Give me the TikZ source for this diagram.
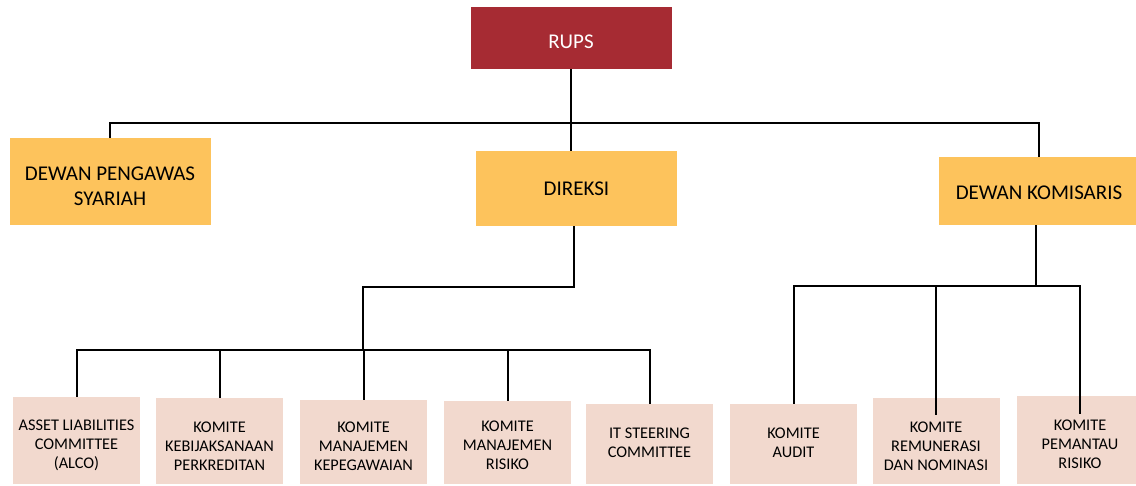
\documentclass[tikz,border=0pt]{standalone}
\usepackage{fontspec}
\setmainfont{Carlito}
\definecolor{rupsred}{HTML}{A62B33}
\definecolor{organgold}{HTML}{FDC35C}
\definecolor{komitepink}{HTML}{F2D9CE}
\begin{document}
\begin{tikzpicture}[x=1pt,y=-1pt,
  box/.style={draw=none,inner sep=0pt,anchor=center},
  topbox/.style={box,fill=organgold,minimum width=201pt},
  subbox/.style={box,fill=komitepink,minimum width=127pt},
  toptext/.style={inner sep=0pt,align=center,font=\fontsize{21}{25.5}\selectfont},
  subtext/.style={inner sep=0pt,align=center,font=\fontsize{16.3}{19}\selectfont},
  link/.style={draw=black,line width=2pt}]
\useasboundingbox (0,0) rectangle (1136,485);

% governing bodies
\node[box,fill=rupsred,minimum width=201pt,minimum height=62pt] (rups) at (571,38) {};
\node[topbox,minimum height=87pt] (dps) at (110,181.5) {};
\node[topbox,minimum height=75pt] (direksi) at (576.5,188.5) {};
\node[topbox,minimum height=68pt] (dk) at (1039,191) {};

\node[toptext,text=white] (rupsT) at ([yshift=-4pt]rups.center) {RUPS};
\node[toptext] (dpsT) at ([yshift=-5pt]dps.center) {DEWAN PENGAWAS\\SYARIAH};
\node[toptext] (direksiT) at ([yshift=0pt]direksi.center) {DIREKSI};
\node[toptext] (dkT) at ([yshift=-2pt]dk.center) {DEWAN KOMISARIS};

% committees under the board of directors
\node[subbox,minimum height=87pt] (alco) at (76.5,440.5) {};
\node[subbox,minimum height=86pt] (kkp) at (219.5,441) {};
\node[subbox,minimum height=84pt] (kmk) at (363.5,442) {};
\node[subbox,minimum height=83pt] (kmr) at (507.5,442.5) {};
\node[subbox,minimum height=80pt] (itsc) at (649.5,444) {};

\node[subtext] (alcoT) at ([yshift=-5pt]alco.center) {ASSET LIABILITIES\\COMMITTEE\\(ALCO)};
\node[subtext] (kkpT) at ([yshift=-5pt]kkp.center) {KOMITE\\KEBIJAKSANAAN\\PERKREDITAN};
\node[subtext] (kmkT) at ([yshift=-4pt]kmk.center) {KOMITE\\MANAJEMEN\\KEPEGAWAIAN};
\node[subtext] (kmrT) at ([yshift=-3pt]kmr.center) {KOMITE\\MANAJEMEN\\RISIKO};
\node[subtext] (itscT) at ([yshift=1pt]itsc.center) {IT STEERING\\COMMITTEE};

% committees under the board of commissioners
\node[subbox,minimum height=80pt] (audit) at (793.5,444) {};
\node[subbox,minimum height=86pt] (rem) at (936,441) {};
\node[subbox,minimum height=88pt] (pem) at (1080,440) {};

\node[subtext] (auditT) at ([yshift=1pt]audit.center) {KOMITE\\AUDIT};
\node[subtext] (remT) at ([yshift=-5pt]rem.center) {KOMITE\\REMUNERASI\\DAN NOMINASI};
\node[subtext] (pemT) at ([yshift=-4pt]pem.center) {KOMITE\\PEMANTAU\\RISIKO};

% junction points of the bus lines
\coordinate (bus0) at (571,123);
\coordinate (bus1) at (363,287);
\coordinate (bus2) at (363,350);
\coordinate (bus3) at (1036,286);
\coordinate (remEnd) at ([yshift=-17pt]rem.north);
\coordinate (pemEnd) at ([yshift=-18pt]pem.north);

% RUPS to the three top bodies
\draw[link] (rups.south) -- (rups.south |- direksi.north);
\draw[link] (dps.north) -- (dps.north |- bus0) -- (dk.north |- bus0) -- (dk.north);

% board of directors to its committees
\draw[link] ([xshift=-3pt]direksi.south) -- ([xshift=-3pt]direksi.south |- bus1) -- (bus1) -- (bus2);
\draw[link] (alco.north) -- (alco.north |- bus2) -- (itsc.north |- bus2) -- (itsc.north);
\draw[link] (kkp.north) -- (kkp.north |- bus2);
\draw[link] (kmk.north) -- (kmk.north |- bus2);
\draw[link] (kmr.north) -- (kmr.north |- bus2);

% board of commissioners to its committees
\draw[link] ([xshift=-3pt]dk.south) -- (bus3);
\draw[link] (audit.north) -- (audit.north |- bus3) -- (pemEnd |- bus3) -- (pemEnd);
\draw[link] (remEnd) -- (remEnd |- bus3);
\end{tikzpicture}
\end{document}
